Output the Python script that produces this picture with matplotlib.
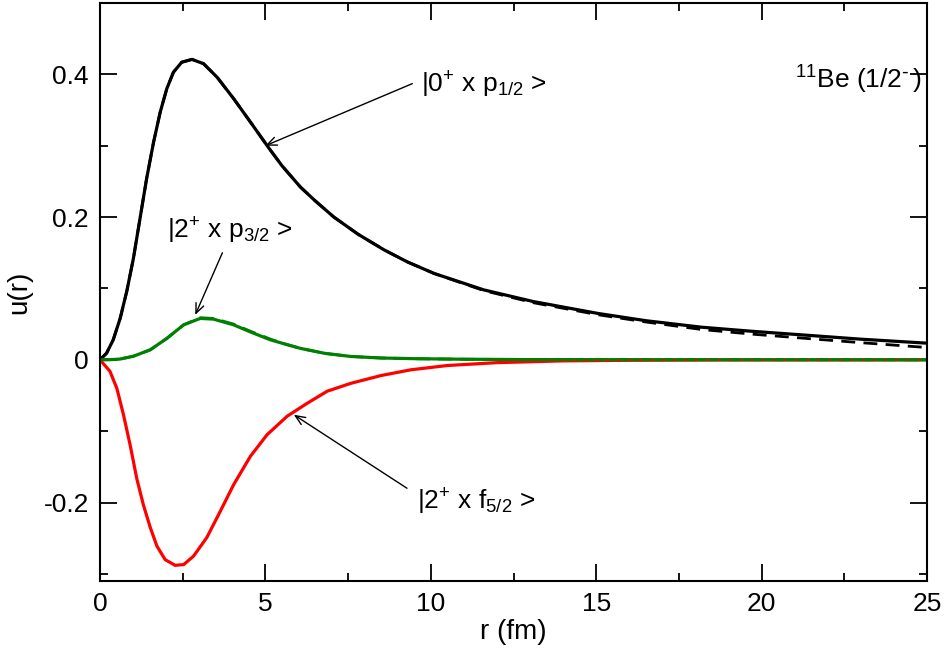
import matplotlib
matplotlib.use('Agg')
import matplotlib.pyplot as plt
from matplotlib.ticker import MultipleLocator, FormatStrFormatter

plt.rcParams['font.family'] = ['Liberation Sans', 'DejaVu Sans']
plt.rcParams['mathtext.default'] = 'regular'
plt.rcParams['axes.unicode_minus'] = False

# |0+ x p1/2>  (solid and dashed calc)
r_black = [0, 0.2, 0.4, 0.61, 0.81, 1.01, 1.21, 1.41, 1.62, 1.82, 2.02, 2.22, 2.47, 2.78,
           3.13, 3.54, 4.04, 4.55, 5.1, 5.5, 6.06, 6.5, 7.07, 7.8, 8.59, 9.3, 10.1, 11.6,
           13.1, 15.05, 16.5, 18.18, 19.7, 21.2, 23, 25]
u_black = [0, 0.0093, 0.028, 0.058, 0.096, 0.142, 0.198, 0.254, 0.305, 0.347, 0.380, 0.403, 0.417, 0.421,
           0.415, 0.396, 0.366, 0.333, 0.297, 0.272, 0.242, 0.223, 0.200, 0.176, 0.154, 0.137, 0.121, 0.098,
           0.0816, 0.065, 0.0548, 0.0457, 0.040, 0.035, 0.0289, 0.0233]
u_black_d = [0, 0.0093, 0.028, 0.058, 0.096, 0.142, 0.198, 0.254, 0.305, 0.347, 0.380, 0.403, 0.417, 0.421,
             0.415, 0.396, 0.366, 0.333, 0.297, 0.272, 0.242, 0.223, 0.200, 0.176, 0.154, 0.137, 0.121, 0.097,
             0.080, 0.0632, 0.053, 0.0425, 0.036, 0.0305, 0.024, 0.0172]

# |2+ x p3/2>
r_green = [0, 0.3, 0.6, 1.01, 1.52, 2.02, 2.53, 3.03, 3.43, 4.04, 4.55, 5.15, 5.6,
           6.06, 6.8, 7.58, 8.5, 9.6, 11, 13, 25]
u_green = [0, 0.0002, 0.001, 0.005, 0.014, 0.030, 0.049, 0.058, 0.057, 0.049, 0.039, 0.028, 0.022,
           0.016, 0.009, 0.0047, 0.0025, 0.0015, 0.0008, 0.0003, 0]
u_green_d = [0, 0.0002, 0.001, 0.005, 0.014, 0.030, 0.049, 0.059, 0.058, 0.050, 0.040, 0.029, 0.022,
             0.016, 0.009, 0.0047, 0.0025, 0.0015, 0.0008, 0.0003, 0]

# |2+ x f5/2>
r_red = [0, 0.3, 0.51, 0.71, 0.91, 1.11, 1.31, 1.52, 1.72, 1.97, 2.27, 2.53, 2.83, 3.23,
         3.64, 4.04, 4.55, 5.05, 5.66, 6.26, 6.87, 7.58, 8.5, 9.4, 10.5, 12, 14, 16, 19, 25]
u_red = [0, -0.016, -0.040, -0.077, -0.119, -0.166, -0.203, -0.235, -0.261, -0.280, -0.288, -0.287, -0.275, -0.249,
         -0.212, -0.175, -0.135, -0.105, -0.079, -0.061, -0.044, -0.033, -0.022, -0.014, -0.008, -0.004, -0.0015,
         -0.0007, -0.0002, 0]

fig = plt.figure(figsize=(9.45, 6.54), dpi=100)
ax = fig.add_axes([0.1058, 0.1116, 0.8752, 0.8838])

ax.plot(r_black, u_black, color='black', lw=2.3)
ax.plot(r_black, u_black_d, color='black', lw=2.0, ls=(0, (5, 3)))
ax.plot(r_red, u_red, color='red', lw=2.3)
ax.plot(r_green, u_green, color='green', lw=2.3)
ax.plot(r_green, u_green_d, color='green', lw=2.0, ls=(0, (5, 3)))
ax.plot(r_red, u_red, color='red', lw=1.0, ls=(0, (2, 6)))

ax.set_xlim(0, 25)
ax.set_ylim(-0.31, 0.5)
ax.xaxis.set_major_locator(MultipleLocator(5))
ax.xaxis.set_minor_locator(MultipleLocator(2.5))
ax.yaxis.set_major_locator(MultipleLocator(0.2))
ax.yaxis.set_minor_locator(MultipleLocator(0.1))
ax.yaxis.set_major_formatter(FormatStrFormatter('%g'))
ax.xaxis.set_major_formatter(FormatStrFormatter('%g'))
ax.tick_params(which='both', direction='in', top=True, right=True, labelsize=19, width=1.3)
ax.tick_params(which='major', length=12, pad=8)
ax.tick_params(which='minor', length=6)
for s in ax.spines.values():
    s.set_linewidth(1.5)

ax.set_xlabel('r (fm)', fontsize=20, labelpad=2)
ax.set_ylabel('u(r)', fontsize=20, labelpad=8)

fs = 19
ax.text(9.70, 0.375, r'$|0^{+}$ x p$_{1/2}$ >', fontsize=fs, va='baseline')
ax.text(2.02, 0.170, r'$|2^{+}$ x p$_{3/2}$ >', fontsize=fs, va='baseline')
ax.text(9.58, -0.210, r'$|2^{+}$ x f$_{5/2}$ >', fontsize=fs, va='baseline')
ax.text(21.0, 0.380, r'$^{11}$Be (1/2$^{\text{-}\,}$)', fontsize=19, va='baseline')

aprops = dict(arrowstyle='->,head_length=0.7,head_width=0.3', lw=1.0, color='black',
              shrinkA=0, shrinkB=0)
ax.annotate('', xy=(5.0, 0.300), xytext=(9.44, 0.387), arrowprops=aprops)
ax.annotate('', xy=(2.88, 0.063), xytext=(3.7, 0.150), arrowprops=aprops)
ax.annotate('', xy=(5.86, -0.077), xytext=(9.28, -0.180), arrowprops=aprops)

fig.savefig('out.png', dpi=100)
